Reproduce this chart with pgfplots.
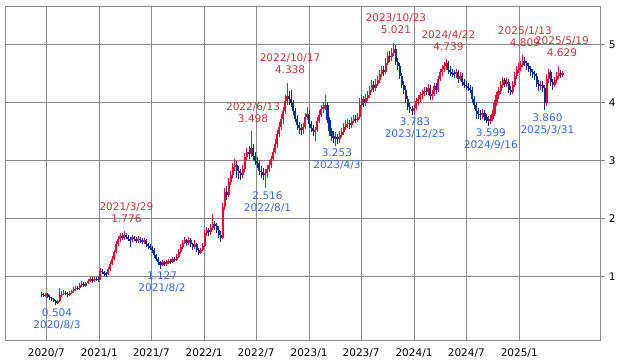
\documentclass[border=0pt]{standalone}
\usepackage{pgfplots}
\usepackage{pgfplotstable}
\pgfplotsset{compat=1.18}
\usepackage{fontspec}
\setmainfont{DejaVu Sans}
\definecolor{cup}{RGB}{250,0,50}
\definecolor{cdn}{RGB}{0,48,150}
\definecolor{tred}{RGB}{204,51,51}
\definecolor{tblue}{RGB}{51,102,255}
\definecolor{gridgray}{RGB}{136,136,136}
\pgfplotsset{
  cndl/.style 2 args={only marks, mark=*, mark size=0pt, mark options={draw=none, fill=none},
    error bars/y dir=both, error bars/y explicit, error bars/error mark=none,
    error bars/error bar style={draw=#1, line width=#2, solid}},
}
\pgfplotstableread{
w o h l c u
0 0.70 0.73 0.65 0.68 0
1 0.68 0.71 0.64 0.67 0
2 0.67 0.72 0.65 0.70 1
3 0.70 0.72 0.63 0.65 0
4 0.65 0.67 0.60 0.63 0
5 0.63 0.65 0.58 0.61 0
6 0.61 0.63 0.55 0.58 0
7 0.58 0.60 0.504 0.55 0
8 0.55 0.60 0.53 0.57 1
9 0.57 0.80 0.56 0.68 1
10 0.68 0.74 0.65 0.70 1
11 0.70 0.76 0.68 0.72 1
12 0.72 0.75 0.67 0.70 0
13 0.70 0.73 0.65 0.68 0
14 0.68 0.74 0.66 0.71 1
15 0.71 0.77 0.69 0.74 1
16 0.74 0.82 0.72 0.78 1
17 0.78 0.84 0.75 0.80 1
18 0.80 0.83 0.76 0.79 0
19 0.79 0.89 0.77 0.85 1
20 0.85 0.92 0.82 0.87 1
21 0.87 0.90 0.81 0.84 0
22 0.84 0.91 0.82 0.88 1
23 0.88 0.96 0.86 0.92 1
24 0.92 0.99 0.90 0.95 1
25 0.95 0.98 0.89 0.92 0
26 0.92 0.99 0.90 0.96 1
27 0.96 0.99 0.92 0.95 0
28 0.95 0.98 0.91 0.94 0
29 0.94 1.14 0.93 1.10 1
30 1.10 1.13 1.04 1.08 0
31 1.08 1.10 1.01 1.05 0
32 1.05 1.08 0.98 1.04 0
33 1.04 1.16 1.02 1.12 1
34 1.12 1.27 1.10 1.22 1
35 1.22 1.35 1.20 1.30 1
36 1.30 1.46 1.28 1.42 1
37 1.42 1.60 1.40 1.55 1
38 1.55 1.69 1.52 1.64 1
39 1.64 1.75 1.60 1.70 1
40 1.70 1.74 1.62 1.66 0
41 1.66 1.776 1.63 1.72 1
42 1.72 1.75 1.64 1.68 0
43 1.68 1.71 1.60 1.64 0
44 1.64 1.68 1.50 1.62 0
45 1.62 1.71 1.59 1.67 1
46 1.67 1.70 1.60 1.64 0
47 1.64 1.68 1.57 1.61 0
48 1.61 1.69 1.58 1.65 1
49 1.65 1.68 1.58 1.62 0
50 1.62 1.66 1.56 1.60 0
51 1.60 1.66 1.56 1.62 1
52 1.62 1.65 1.50 1.55 0
53 1.55 1.58 1.47 1.52 0
54 1.52 1.56 1.45 1.49 0
55 1.49 1.52 1.40 1.45 0
56 1.45 1.48 1.32 1.36 0
57 1.36 1.39 1.26 1.30 0
58 1.30 1.33 1.20 1.24 0
59 1.24 1.27 1.127 1.20 0
60 1.20 1.28 1.17 1.24 1
61 1.24 1.27 1.18 1.21 0
62 1.21 1.28 1.18 1.24 1
63 1.24 1.30 1.21 1.27 1
64 1.27 1.30 1.22 1.25 0
65 1.25 1.34 1.23 1.30 1
66 1.30 1.33 1.25 1.28 0
67 1.28 1.38 1.26 1.34 1
68 1.34 1.47 1.32 1.42 1
69 1.42 1.55 1.39 1.50 1
70 1.50 1.63 1.47 1.58 1
71 1.58 1.67 1.55 1.62 1
72 1.62 1.65 1.53 1.57 0
73 1.57 1.68 1.54 1.63 1
74 1.63 1.66 1.51 1.55 0
75 1.55 1.58 1.45 1.50 0
76 1.50 1.62 1.47 1.56 1
77 1.56 1.58 1.42 1.46 0
78 1.46 1.49 1.37 1.41 0
79 1.41 1.49 1.38 1.45 1
80 1.45 1.57 1.43 1.52 1
81 1.52 1.80 1.50 1.74 1
82 1.74 1.85 1.70 1.79 1
83 1.79 1.84 1.70 1.76 0
84 1.76 1.90 1.72 1.84 1
85 1.84 2.08 1.80 1.90 1
86 1.90 1.96 1.80 1.86 0
87 1.86 1.92 1.74 1.80 0
88 1.80 1.86 1.66 1.72 0
89 1.72 1.78 1.60 1.66 0
90 1.66 2.26 1.64 2.20 1
91 2.20 2.52 2.15 2.45 1
92 2.45 2.55 2.32 2.40 0
93 2.40 2.70 2.36 2.62 1
94 2.62 2.82 2.58 2.75 1
95 2.75 2.96 2.70 2.88 1
96 2.88 3.02 2.82 2.92 1
97 2.92 2.98 2.70 2.82 0
98 2.82 2.90 2.68 2.78 0
99 2.78 2.85 2.66 2.75 0
100 2.75 2.92 2.70 2.85 1
101 2.85 3.12 2.80 3.05 1
102 3.05 3.22 2.98 3.15 1
103 3.15 3.25 3.02 3.10 0
104 3.10 3.498 3.05 3.22 1
105 3.22 3.28 3.00 3.08 0
106 3.08 3.14 2.92 2.98 0
107 2.98 3.06 2.86 2.95 0
108 2.95 3.00 2.74 2.82 0
109 2.82 2.90 2.70 2.80 0
110 2.80 2.86 2.66 2.74 0
111 2.74 2.85 2.516 2.78 1
112 2.78 2.92 2.70 2.85 1
113 2.85 3.00 2.80 2.92 1
114 2.92 3.08 2.86 3.02 1
115 3.02 3.22 2.98 3.15 1
116 3.15 3.36 3.10 3.28 1
117 3.28 3.52 3.22 3.45 1
118 3.45 3.66 3.40 3.58 1
119 3.58 3.80 3.52 3.72 1
120 3.72 3.92 3.62 3.85 1
121 3.85 4.12 3.80 4.02 1
122 4.02 4.338 3.96 4.10 1
123 4.10 4.20 3.96 4.05 0
124 4.05 4.22 3.92 3.98 0
125 3.98 4.04 3.78 3.85 0
126 3.85 3.90 3.66 3.72 0
127 3.72 3.78 3.52 3.60 0
128 3.60 3.66 3.46 3.55 0
129 3.55 3.62 3.44 3.52 0
130 3.52 3.64 3.46 3.58 1
131 3.58 3.82 3.54 3.75 1
132 3.75 3.92 3.70 3.80 1
133 3.80 3.86 3.56 3.62 0
134 3.62 3.68 3.48 3.55 0
135 3.55 3.60 3.42 3.50 0
136 3.50 3.58 3.34 3.52 1
137 3.52 3.74 3.48 3.68 1
138 3.68 3.86 3.64 3.78 1
139 3.78 3.96 3.74 3.88 1
140 3.88 4.00 3.82 3.92 1
141 3.92 4.12 3.86 3.95 1
142 3.95 4.00 3.64 3.70 0
143 3.70 3.74 3.42 3.50 0
144 3.50 3.56 3.34 3.42 0
145 3.42 3.50 3.30 3.38 0
146 3.38 3.48 3.253 3.40 1
147 3.40 3.46 3.28 3.36 0
148 3.36 3.50 3.30 3.44 1
149 3.44 3.56 3.40 3.48 1
150 3.48 3.64 3.44 3.58 1
151 3.58 3.70 3.52 3.62 1
152 3.62 3.72 3.56 3.65 1
153 3.65 3.70 3.54 3.60 0
154 3.60 3.74 3.56 3.68 1
155 3.68 3.78 3.64 3.72 1
156 3.72 3.78 3.64 3.70 0
157 3.70 3.82 3.66 3.75 1
158 3.75 4.08 3.72 3.95 1
159 3.95 4.12 3.88 4.05 1
160 4.05 4.10 3.92 3.98 0
161 3.98 4.14 3.94 4.08 1
162 4.08 4.20 4.02 4.12 1
163 4.12 4.28 4.08 4.22 1
164 4.22 4.38 4.18 4.30 1
165 4.30 4.36 4.18 4.25 0
166 4.25 4.40 4.20 4.32 1
167 4.32 4.45 4.28 4.38 1
168 4.38 4.56 4.34 4.48 1
169 4.48 4.62 4.44 4.55 1
170 4.55 4.62 4.46 4.52 0
171 4.52 4.76 4.48 4.68 1
172 4.68 4.87 4.64 4.80 1
173 4.80 4.88 4.70 4.78 0
174 4.78 4.93 4.72 4.85 1
175 4.85 5.021 4.80 4.92 1
176 4.92 4.98 4.64 4.70 0
177 4.70 4.76 4.55 4.62 0
178 4.62 4.68 4.40 4.45 0
179 4.45 4.50 4.24 4.30 0
180 4.30 4.36 4.15 4.22 0
181 4.22 4.28 3.98 4.05 0
182 4.05 4.10 3.86 3.92 0
183 3.92 3.98 3.82 3.88 0
184 3.88 3.94 3.783 3.85 0
185 3.85 3.96 3.80 3.90 1
186 3.90 4.08 3.86 4.02 1
187 4.02 4.12 3.96 4.05 1
188 4.05 4.18 4.00 4.12 1
189 4.12 4.22 4.06 4.15 1
190 4.15 4.26 4.10 4.20 1
191 4.20 4.26 4.12 4.18 0
192 4.18 4.32 4.12 4.25 1
193 4.25 4.30 4.04 4.10 0
194 4.10 4.22 4.04 4.15 1
195 4.15 4.34 4.10 4.28 1
196 4.28 4.34 4.14 4.22 0
197 4.22 4.46 4.18 4.40 1
198 4.40 4.58 4.36 4.52 1
199 4.52 4.65 4.46 4.58 1
200 4.58 4.69 4.52 4.62 1
201 4.62 4.739 4.56 4.68 1
202 4.68 4.72 4.48 4.55 0
203 4.55 4.62 4.46 4.52 0
204 4.52 4.58 4.44 4.50 0
205 4.50 4.56 4.42 4.48 0
206 4.48 4.58 4.42 4.52 1
207 4.52 4.56 4.34 4.40 0
208 4.40 4.52 4.36 4.45 1
209 4.45 4.50 4.28 4.35 0
210 4.35 4.40 4.24 4.30 0
211 4.30 4.36 4.22 4.28 0
212 4.28 4.34 4.20 4.25 0
213 4.25 4.30 4.16 4.22 0
214 4.22 4.26 3.98 4.05 0
215 4.05 4.10 3.88 3.95 0
216 3.95 4.00 3.72 3.85 0
217 3.85 3.90 3.72 3.80 0
218 3.80 3.86 3.70 3.78 0
219 3.78 3.88 3.72 3.82 1
220 3.82 3.86 3.68 3.75 0
221 3.75 3.80 3.64 3.70 0
222 3.70 3.76 3.599 3.68 0
223 3.68 3.78 3.62 3.72 1
224 3.72 3.86 3.68 3.80 1
225 3.80 4.04 3.76 3.98 1
226 3.98 4.18 3.94 4.12 1
227 4.12 4.26 4.06 4.20 1
228 4.20 4.36 4.14 4.30 1
229 4.30 4.44 4.24 4.38 1
230 4.38 4.42 4.26 4.32 0
231 4.32 4.42 4.26 4.35 1
232 4.35 4.40 4.16 4.22 0
233 4.22 4.28 4.12 4.18 0
234 4.18 4.36 4.14 4.30 1
235 4.30 4.52 4.26 4.45 1
236 4.45 4.62 4.40 4.55 1
237 4.55 4.68 4.50 4.60 1
238 4.60 4.72 4.54 4.65 1
239 4.65 4.809 4.60 4.72 1
240 4.72 4.78 4.62 4.68 0
241 4.68 4.72 4.56 4.62 0
242 4.62 4.68 4.52 4.58 0
243 4.58 4.62 4.46 4.52 0
244 4.52 4.58 4.42 4.48 0
245 4.48 4.54 4.38 4.45 0
246 4.45 4.50 4.26 4.32 0
247 4.32 4.38 4.20 4.28 0
248 4.28 4.36 4.22 4.30 1
249 4.30 4.36 4.18 4.25 0
250 4.25 4.30 3.860 3.98 0
251 3.98 4.48 3.94 4.40 1
252 4.40 4.58 4.34 4.52 1
253 4.52 4.56 4.28 4.35 0
254 4.35 4.40 4.22 4.30 0
255 4.30 4.44 4.26 4.38 1
256 4.38 4.52 4.34 4.45 1
257 4.45 4.629 4.40 4.50 1
258 4.50 4.56 4.42 4.48 0
259 4.48 4.54 4.44 4.50 1
}\data
\begin{document}
\begin{tikzpicture}
\begin{axis}[
  scale only axis, width=594.8pt, height=334pt,
  xmin=-18.0, xmax=277.57, ymin=-0.1034, ymax=5.655,
  clip=false,
  axis line style={draw=gridgray, line width=0.9pt},
  xtick={2.286,28.571,54.429,80.714,106.571,132.857,158.714,185,211,237.286},
  xticklabels={2020/7,2021/1,2021/7,2022/1,2022/7,2023/1,2023/7,2024/1,2024/7,2025/1},
  ytick={1,2,3,4,5}, yticklabels={1,2,3,4,5},
  ytick pos=right, yticklabel pos=right, xtick pos=bottom,
  grid=major, major grid style={draw=gridgray, line width=0.9pt},
  tick align=outside, major tick length=5pt,
  xtick style={draw=none},
  ytick style={draw=gridgray, line width=0.9pt},
  tick label style={font=\fontsize{10.5}{12}\selectfont, text=black},
]
\coordinate (ll) at (rel axis cs:0,0);
\coordinate (ur) at (rel axis cs:1,1);
\addplot[cndl={cup}{1.0pt}] table[x=w, y expr={(\thisrow{h}+\thisrow{l})/2}, y error expr={\thisrow{u}*(\thisrow{h}-\thisrow{l})/2}] {\data};
\addplot[cndl={cup}{2.1pt}] table[x=w, y expr={(\thisrow{o}+\thisrow{c})/2}, y error expr={\thisrow{u}*(\thisrow{c}-\thisrow{o})/2}] {\data};
\addplot[cndl={cdn}{1.0pt}] table[x=w, y expr={(\thisrow{h}+\thisrow{l})/2}, y error expr={(1-\thisrow{u})*(\thisrow{h}-\thisrow{l})/2}] {\data};
\addplot[cndl={cdn}{2.1pt}] table[x=w, y expr={(\thisrow{o}+\thisrow{c})/2}, y error expr={(1-\thisrow{u})*(\thisrow{o}-\thisrow{c})/2}] {\data};
\tikzset{lab/.style={align=center, font=\fontsize{10.5}{12}\selectfont, inner sep=0pt}}
\node[lab, tred] at (axis cs:42.1,2.091) {2021/3/29\\1.776};
\node[lab, tblue] at (axis cs:59.8,0.893) {1.127\\2021/8/2};
\node[lab, tblue] at (axis cs:7.6,0.264) {0.504\\2020/8/3};
\node[lab, tred] at (axis cs:105.0,3.816) {2022/6/13\\3.498};
\node[lab, tblue] at (axis cs:112.2,2.281) {2.516\\2022/8/1};
\node[lab, tred] at (axis cs:123.4,4.66) {2022/10/17\\4.338};
\node[lab, tblue] at (axis cs:146.7,3.022) {3.253\\2023/4/3};
\node[lab, tred] at (axis cs:176.0,5.350) {2023/10/23\\5.021};
\node[lab, tblue] at (axis cs:185.5,3.557) {3.783\\2023/12/25};
\node[lab, tred] at (axis cs:202.1,5.057) {2024/4/22\\4.739};
\node[lab, tblue] at (axis cs:223.2,3.367) {3.599\\2024/9/16};
\node[lab, tred] at (axis cs:240.1,5.126) {2025/1/13\\4.809};
\node[lab, tblue] at (axis cs:251.3,3.624) {3.860\\2025/3/31};
\node[lab, tred] at (axis cs:258.5,4.955) {2025/5/19\\4.629};
\end{axis}
\pgfresetboundingbox
\path[use as bounding box] ([xshift=-5.5pt,yshift=-18.7pt]ll) rectangle ([xshift=23.7pt,yshift=6.3pt]ur);
\end{tikzpicture}
\end{document}
